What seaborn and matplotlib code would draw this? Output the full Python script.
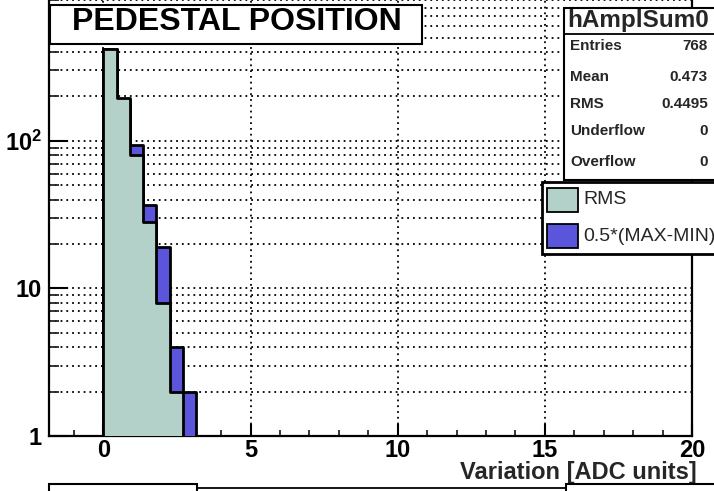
import numpy as np
import pandas as pd
import matplotlib
matplotlib.use("Agg")
import matplotlib.pyplot as plt
import seaborn as sns
from matplotlib import font_manager as fm
from matplotlib.patches import Rectangle
from matplotlib.lines import Line2D
from matplotlib.ticker import MultipleLocator, LogLocator, NullFormatter

# ---------------- data ----------------
bin_low = [0.0, 0.45, 0.9, 1.35, 1.8, 2.25, 2.7]
bin_width = 0.45
rms_counts = [422, 195, 80, 28, 8, 2, 0]
halfrange_counts = [420, 190, 93, 37, 19, 4, 2]
x_ticks = [0, 5, 10, 15, 20]
y_ticks = [1, 10, 100]
y_tick_labels = ["1", "10", r"$\mathbf{10^{2}}$"]
title = "PEDESTAL POSITION"
x_label = "Variation [ADC units]"
stats_name = "hAmplSum0"
stats_labels = ["Entries", "Mean", "RMS", "Underflow", "Overflow"]
stats_values = ["768", "0.473", "0.4495", "0", "0"]
legend_labels = ["RMS", "0.5*(MAX-MIN)"]

TEAL = "#b3d1c9"
BLUE = "#5b55dc"

sns.set_theme(style="white")
names = {f.name for f in fm.fontManager.ttflist}
NARROW = "Liberation Sans Narrow" if "Liberation Sans Narrow" in names else "Liberation Sans"
plt.rcParams['font.family'] = ['Liberation Sans', 'DejaVu Sans']
plt.rcParams['mathtext.fontset'] = 'custom'
plt.rcParams['mathtext.rm'] = 'Liberation Sans'
plt.rcParams['mathtext.bf'] = 'Liberation Sans:bold'

W, H = 714, 491
fig = plt.figure(figsize=(W / 100, H / 100), dpi=100)
fig.patch.set_facecolor("white")


def fx(px):
    return px / W


def fy(py):
    return 1 - py / H


ax_left, ax_right, ax_bottom, ax_top = 49, 692, 436, -6.8
ax = fig.add_axes([fx(ax_left), fy(ax_bottom), fx(ax_right) - fx(ax_left), fy(ax_top) - fy(ax_bottom)])
ax.set_facecolor("white")
ax.set_yscale("log", nonpositive="clip")

edges = list(bin_low) + [bin_low[-1] + bin_width]
centers = [b + bin_width / 2 for b in bin_low]

sns.histplot(x=centers, weights=halfrange_counts, bins=edges, element="step", fill=True,
             color=BLUE, alpha=1, edgecolor="black", linewidth=2.0, ax=ax, zorder=3)
sns.histplot(x=centers, weights=rms_counts, bins=edges, element="step", fill=True,
             color=TEAL, alpha=1, edgecolor="black", linewidth=2.0, ax=ax, zorder=4)

ax.set_xlim(-1.85, 20)
ax.set_ylim(1, 1000)

# ticks
ax.set_xticks(x_ticks)
ax.set_xticklabels([str(t) for t in x_ticks])
ax.xaxis.set_minor_locator(MultipleLocator(1))
ax.set_yticks(y_ticks)
ax.set_yticklabels(y_tick_labels)
ax.yaxis.set_minor_locator(LogLocator(base=10, subs=np.arange(2, 10)))
ax.yaxis.set_minor_formatter(NullFormatter())

ax.tick_params(axis="x", which="major", direction="in", length=9, width=1.5, pad=2,
               labelsize=17, colors="black", bottom=True, top=False)
ax.tick_params(axis="x", which="minor", direction="in", length=4.5, width=1.3, bottom=True, top=False)
ax.tick_params(axis="y", which="major", direction="in", length=14, width=1.5, pad=5,
               labelsize=17, colors="black", left=True, right=False)
ax.tick_params(axis="y", which="minor", direction="in", length=7.5, width=1.3, left=True, right=False)
for lab in ax.get_xticklabels() + ax.get_yticklabels():
    lab.set_fontweight("bold")
    lab.set_family([NARROW, "Liberation Sans", "DejaVu Sans"])

# grid
ax.set_axisbelow(True)
ax.grid(True, which="major", axis="x", color="black", linestyle=(0, (1, 2.2)), linewidth=1.3)
ax.grid(True, which="both", axis="y", color="black", linestyle=(0, (1, 2.2)), linewidth=1.3)

for side in ["left", "bottom", "right", "top"]:
    ax.spines[side].set_visible(True)
    ax.spines[side].set_color("black")
    ax.spines[side].set_linewidth(1.6)

ax.set_ylabel("")
ax.set_xlabel(x_label, fontsize=17, fontweight="bold", family=[NARROW, "Liberation Sans", "DejaVu Sans"])
ax.xaxis.set_label_coords((697 - ax_left) / (ax_right - ax_left), -(472 - ax_bottom) / (ax_bottom - ax_top))
ax.xaxis.label.set_horizontalalignment("right")
ax.xaxis.label.set_verticalalignment("center")


def box(x0, y0, x1, y1, fc="white", lw=1.5, z=10):
    r = Rectangle((fx(x0), fy(y1)), fx(x1) - fx(x0), fy(y0) - fy(y1), transform=fig.transFigure,
                  facecolor=fc, edgecolor="black", linewidth=lw, zorder=z)
    fig.add_artist(r)
    return r


# title box
box(50, 5, 422, 44, lw=1.5)
fig.text(fx(237), fy(22), title, ha="center", va="center", fontsize=23, fontweight="bold",
         color="black", zorder=11)

# stats box
box(564, 8, 722, 180, lw=1.5)
fig.add_artist(Line2D([fx(564), fx(714)], [fy(33.5), fy(33.5)], transform=fig.transFigure,
                      color="black", linewidth=1.3, zorder=11))
fig.text(fx(567), fy(20), stats_name, ha="left", va="center", fontsize=17.5, fontweight="bold", zorder=12)
row_y = [46, 77, 104, 131, 162]
for lab, val, yy in zip(stats_labels, stats_values, row_y):
    fig.text(fx(570), fy(yy), lab, ha="left", va="center", fontsize=11, fontweight="bold", zorder=12)
    fig.text(fx(708), fy(yy), val, ha="right", va="center", fontsize=11, fontweight="bold", zorder=12)

# legend box
box(542, 182, 722, 254, lw=2)
leg_colors = [TEAL, BLUE]
leg_y = [200, 236]
for lab, col, yy in zip(legend_labels, leg_colors, leg_y):
    box(547, yy - 12, 578, yy + 12, fc=col, lw=1.3, z=12)
    fig.text(fx(583), fy(yy), lab, ha="left", va="center", fontsize=14, zorder=13)

# remnants of the next pad at the bottom
box(49, 484, 197, 500, lw=1.5)
fig.add_artist(Line2D([fx(197), fx(566)], [fy(488), fy(488)], transform=fig.transFigure,
                      color="black", linewidth=1.3, zorder=11))
box(566, 484, 722, 500, lw=1.5)

fig.savefig("out.png", dpi=100, facecolor="white")
